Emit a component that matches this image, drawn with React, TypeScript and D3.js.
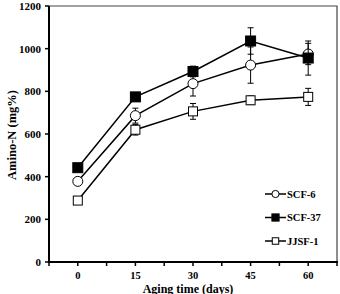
import * as d3 from "d3";

// Amino-N content over aging time for three strains
const days = [0, 15, 30, 45, 60];
const seriesNames = ["SCF-6", "SCF-37", "JJSF-1"];
const scf6 = [378, 686, 836, 923, 975];
const scf6Err = [10, 35, 58, 85, 50];
const scf37 = [442, 774, 893, 1036, 956];
const scf37Err = [10, 20, 25, 62, 80];
const jjsf1 = [288, 620, 706, 758, 774];
const jjsf1Err = [8, 25, 37, 20, 40];
const yTicks = [0, 200, 400, 600, 800, 1000, 1200];

const width = 340;
const height = 294;
const font = "'Liberation Serif', 'Times New Roman', serif";

export default function App() {
  const x = d3.scaleLinear().domain([-7.5, 67.5]).range([49, 337]);
  const y = d3.scaleLinear().domain([0, 1200]).range([262, 6]);
  const xMinor = d3.range(-7.5, 67.6, 7.5);

  const line = d3
    .line<number>()
    .x((_, i) => x(days[i]))
    .y((d) => y(d));

  const series = [
    { name: seriesNames[0], vals: scf6, err: scf6Err, shape: "circle", fill: "#fff" },
    { name: seriesNames[1], vals: scf37, err: scf37Err, shape: "square", fill: "#000" },
    { name: seriesNames[2], vals: jjsf1, err: jjsf1Err, shape: "square", fill: "#fff" },
  ];

  // scale: 1 for the plot markers, smaller in the legend
  const marker = (shape: string, fill: string, cx: number, cy: number, key: string, k = 1) => {
    if (shape === "circle")
      return <circle key={key} cx={cx} cy={cy} r={5 * k} fill={fill} stroke="#000" strokeWidth={1} />;
    const half = (fill === "#000" ? 5 : 4.5) * k;
    return (
      <rect
        key={key}
        x={cx - half}
        y={cy - half}
        width={half * 2}
        height={half * 2}
        fill={fill}
        stroke="#000"
        strokeWidth={1}
      />
    );
  };

  return (
    <div style={{ position: "absolute", left: 0, top: 0 }}>
      <svg width={width} height={height} style={{ display: "block", background: "#fff" }}>
        {/* frame */}
        <path d={`M49,${y(1200)}H337V262`} fill="none" stroke="#444" strokeWidth={1.2} />

        {/* series lines, error bars and markers */}
        {series.map((s) => (
          <g key={s.name}>
            <path d={line(s.vals) ?? ""} fill="none" stroke="#000" strokeWidth={1.5} />
            {s.vals.map((v, i) => {
              const cx = x(days[i]);
              const y0 = y(v - s.err[i]);
              const y1 = y(v + s.err[i]);
              return (
                <g key={i} stroke="#000" strokeWidth={1}>
                  <line x1={cx} x2={cx} y1={y0} y2={y1} />
                  <line x1={cx - 3} x2={cx + 3} y1={y0} y2={y0} />
                  <line x1={cx - 3} x2={cx + 3} y1={y1} y2={y1} />
                </g>
              );
            })}
            {s.vals.map((v, i) => marker(s.shape, s.fill, x(days[i]), y(v), `m${i}`))}
          </g>
        ))}

        {/* axes */}
        <line x1={49} x2={49} y1={y(1200)} y2={263} stroke="#000" strokeWidth={2} />
        <line x1={48} x2={338} y1={262} y2={262} stroke="#000" strokeWidth={2} />
        {yTicks.map((t) => (
          <g key={t}>
            <line x1={45} x2={49} y1={y(t)} y2={y(t)} stroke="#000" strokeWidth={1.5} />
            <text
              x={41}
              y={y(t)}
              dy="0.35em"
              textAnchor="end"
              fontFamily={font}
              fontWeight="bold"
              fontSize={11}
            >
              {t}
            </text>
          </g>
        ))}
        {xMinor.map((t) => (
          <line key={t} x1={x(t)} x2={x(t)} y1={262} y2={266} stroke="#000" strokeWidth={1.5} />
        ))}
        {days.map((t) => (
          <text
            key={t}
            x={x(t)}
            y={278.5}
            textAnchor="middle"
            fontFamily={font}
            fontWeight="bold"
            fontSize={10.5}
          >
            {t}
          </text>
        ))}

        <text
          x={188}
          y={292.5}
          textAnchor="middle"
          fontFamily={font}
          fontWeight="bold"
          fontSize={12}
        >
          Aging time (days)
        </text>
        <text
          transform="translate(16,135) rotate(-90)"
          textAnchor="middle"
          fontFamily={font}
          fontWeight="bold"
          fontSize={12.5}
        >
          Amino-N (mg%)
        </text>

        {/* legend */}
        {series.map((s, i) => {
          const ly = 194 + i * 23.5;
          return (
            <g key={s.name}>
              <line x1={265} x2={286} y1={ly} y2={ly} stroke="#000" strokeWidth={1.5} />
              {marker(s.shape, s.fill, 275.5, ly, "lm", 0.72)}
              <text
                x={287}
                y={ly}
                dy="0.35em"
                fontFamily={font}
                fontWeight="bold"
                fontSize={10.5}
              >
                {s.name}
              </text>
            </g>
          );
        })}
      </svg>
    </div>
  );
}
